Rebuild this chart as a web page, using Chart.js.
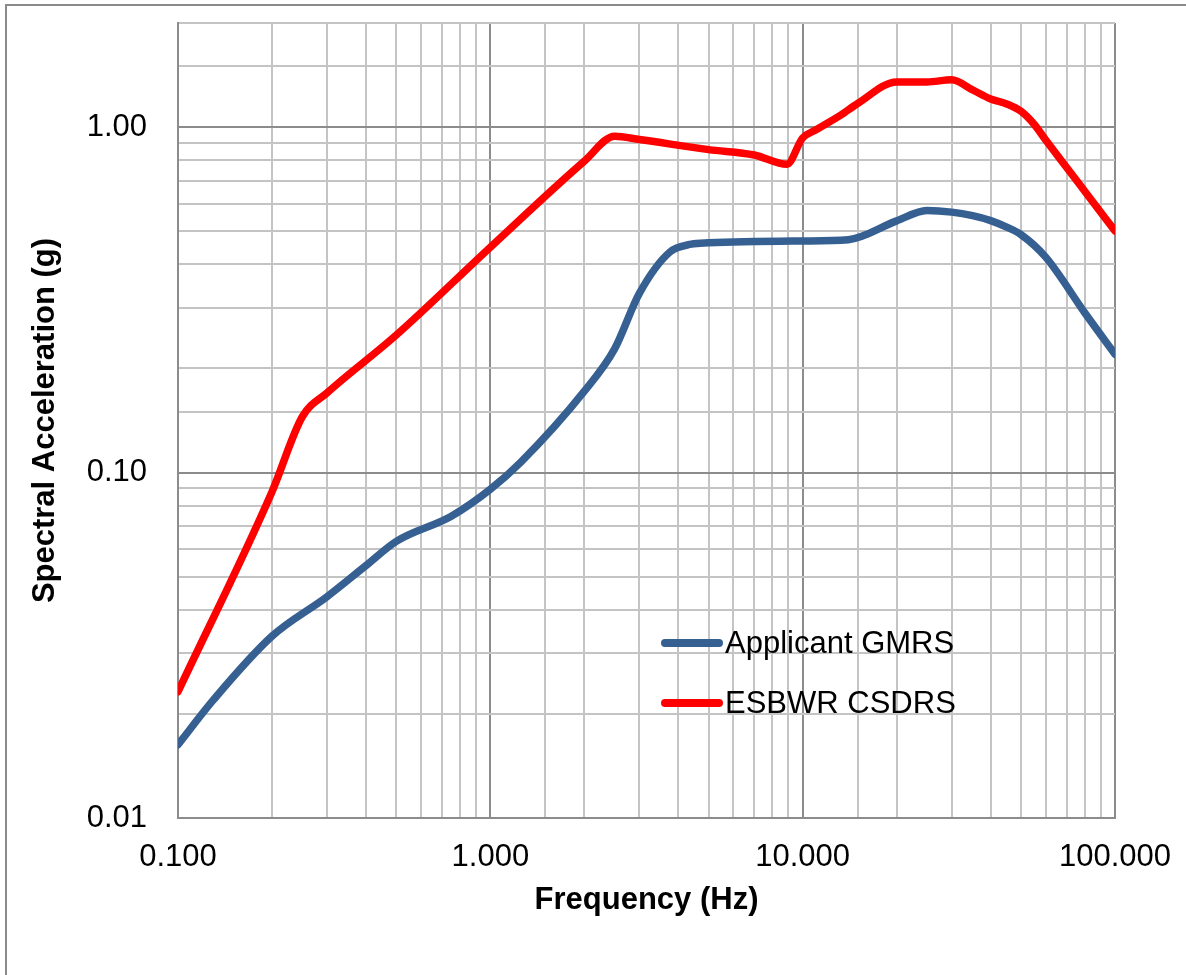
<!DOCTYPE html>
<html>
<head>
<meta charset="utf-8">
<title>GMRS vs CSDRS</title>
<script src="https://cdn.jsdelivr.net/npm/chart.js@4.4.1/dist/chart.umd.min.js"></script>
<style>
  html, body { margin: 0; padding: 0; background: #fff; }
  #wrap { width: 1186px; height: 975px; position: relative; }
</style>
</head>
<body>
<div id="wrap"><canvas id="spectra" width="1186" height="975"></canvas></div>
<script>
// --- data ---
const gmrsFreq = [0.1, 0.13, 0.2, 0.3, 0.4, 0.5, 0.75, 1.0, 1.25, 2.0, 2.5, 3.0, 3.75, 4.4, 5.0, 10, 14, 20, 25, 30, 35, 40, 45, 50, 60, 80, 100];
const gmrsSa   = [0.0163, 0.022, 0.0336, 0.0437, 0.0538, 0.0632, 0.0747, 0.0894, 0.107, 0.172, 0.228, 0.33, 0.434, 0.458, 0.462, 0.468, 0.472, 0.535, 0.573, 0.567, 0.554, 0.536, 0.513, 0.488, 0.42, 0.29, 0.22];

const csdrsFreq = [0.1, 0.2, 0.25, 0.3, 0.5, 1.0, 2.0, 2.5, 3.0, 5.0, 7.0, 8.9, 10, 11, 13.2, 15, 20, 25, 30, 35, 40, 45, 50, 55, 60, 80, 100];
const csdrsSa   = [0.0232, 0.088, 0.145, 0.17, 0.25, 0.449, 0.797, 0.94, 0.92, 0.86, 0.83, 0.78, 0.93, 0.98, 1.08, 1.17, 1.35, 1.35, 1.37, 1.28, 1.205, 1.166, 1.11, 1.02, 0.917, 0.652, 0.50];

const seriesNames = ['Applicant GMRS', 'ESBWR CSDRS'];
const seriesColors = ['#376092', '#FF0000'];

const xTickDigits = 3;
const yTickDigits = 2;

const FONT = "'Liberation Sans', Arial, sans-serif";

function isDecade(v) {
    const l = Math.log10(v);
    return Math.abs(l - Math.round(l)) < 1e-6;
}

function toPoints(xs, ys) {
    return xs.map((x, i) => ({ x: x, y: ys[i] }));
}

// outer frame (only left and top edges show in the reference)
const framePlugin = {
    id: 'frame',
    beforeDraw(chart) {
        const ctx = chart.ctx;
        ctx.save();
        ctx.strokeStyle = '#8a8a8a';
        ctx.lineWidth = 2;
        ctx.beginPath();
        ctx.moveTo(6, chart.height);
        ctx.lineTo(6, 5);
        ctx.lineTo(chart.width, 5);
        ctx.stroke();
        ctx.restore();
    }
};

// legend sits inside the plot area
const insideLegend = {
    id: 'insideLegend',
    afterDatasetsDraw(chart) {
        const ctx = chart.ctx;
        const area = chart.chartArea;
        const x0 = area.left + 487;
        const y0 = area.top + 620;
        ctx.save();
        chart.data.datasets.forEach((ds, i) => {
            const y = y0 + i * 60;
            ctx.strokeStyle = ds.borderColor;
            ctx.lineWidth = 8;
            ctx.lineCap = 'round';
            ctx.beginPath();
            ctx.moveTo(x0, y);
            ctx.lineTo(x0 + 54, y);
            ctx.stroke();
            ctx.fillStyle = '#000';
            ctx.font = '31px ' + FONT;
            ctx.textBaseline = 'middle';
            ctx.textAlign = 'left';
            ctx.fillText(ds.label, x0 + 60, y + 1);
        });
        ctx.restore();
    }
};

const lineStyle = {
    borderWidth: 7.5,
    pointRadius: 0,
    cubicInterpolationMode: 'monotone',
    borderCapStyle: 'round',
    borderJoinStyle: 'round',
    fill: false
};

new Chart(document.getElementById('spectra'), {
    type: 'line',
    data: {
        datasets: [
            Object.assign({
                label: seriesNames[0],
                data: toPoints(gmrsFreq, gmrsSa),
                borderColor: seriesColors[0]
            }, lineStyle),
            Object.assign({
                label: seriesNames[1],
                data: toPoints(csdrsFreq, csdrsSa),
                borderColor: seriesColors[1]
            }, lineStyle)
        ]
    },
    options: {
        responsive: false,
        animation: false,
        layout: { padding: { left: 0, top: 23, right: 71, bottom: 0 } },
        plugins: {
            legend: { display: false },
            tooltip: { enabled: false }
        },
        scales: {
            x: {
                type: 'logarithmic',
                min: 0.1,
                max: 100,
                afterFit(scale) {
                    scale.height = 157;
                    scale.paddingLeft = 0;
                    scale.paddingRight = 0;
                },
                grid: {
                    drawTicks: false,
                    lineWidth: 2,
                    color: (c) => isDecade(c.tick.value) ? '#8c8c8c' : '#c4c4c4'
                },
                border: { display: true, color: '#8c8c8c', width: 2 },
                ticks: {
                    autoSkip: false,
                    maxRotation: 0,
                    padding: 21,
                    color: '#000',
                    font: { family: FONT, size: 31 },
                    callback: (v) => isDecade(v) ? Number(v).toFixed(xTickDigits) : ''
                },
                title: {
                    display: true,
                    text: 'Frequency (Hz)',
                    color: '#000',
                    font: { family: FONT, size: 31, weight: 'bold' },
                    padding: { top: 0, bottom: 56 }
                }
            },
            y: {
                type: 'logarithmic',
                min: 0.01,
                max: 2,
                afterFit(scale) {
                    scale.width = 178;
                    scale.paddingTop = 0;
                    scale.paddingBottom = 0;
                },
                grid: {
                    drawTicks: false,
                    lineWidth: 2,
                    color: (c) => isDecade(c.tick.value) ? '#8c8c8c' : '#c4c4c4'
                },
                border: { display: true, color: '#8c8c8c', width: 2 },
                ticks: {
                    autoSkip: false,
                    padding: 31,
                    color: '#000',
                    font: { family: FONT, size: 31 },
                    callback: (v) => isDecade(v) ? Number(v).toFixed(yTickDigits) : ''
                },
                title: {
                    display: true,
                    text: 'Spectral Acceleration (g)',
                    color: '#000',
                    font: { family: FONT, size: 31, weight: 'bold' },
                    padding: { top: 27, bottom: 0 }
                }
            }
        }
    },
    plugins: [framePlugin, insideLegend]
});
</script>
</body>
</html>
